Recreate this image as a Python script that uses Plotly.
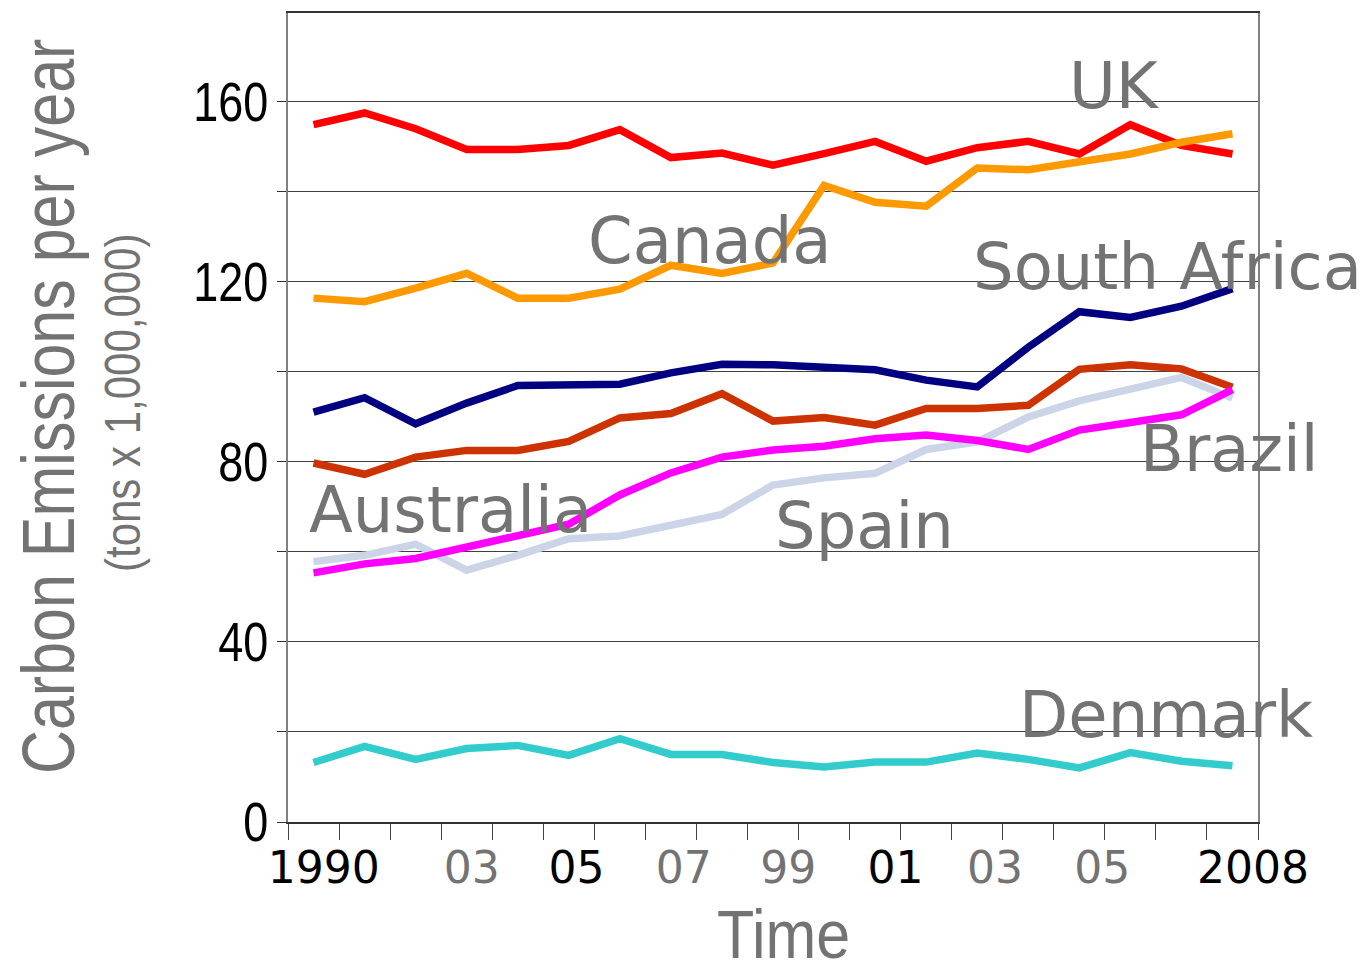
import plotly.graph_objects as go

years = list(range(1990, 2009))

uk = [154.8, 157.4, 153.9, 149.3, 149.3, 150.2, 153.7, 147.5, 148.5, 145.8,
      148.4, 151.1, 146.7, 149.7, 151.1, 148.3, 154.8, 150.2, 148.3]
canada = [116.3, 115.5, 118.5, 121.8, 116.3, 116.3, 118.3, 123.6, 121.8, 124.1,
          141.3, 137.6, 136.7, 145.2, 144.8, 146.6, 148.3, 150.9, 152.8]
south_africa = [91.0, 94.2, 88.4, 93.0, 96.9, 96.9, 97.2, 99.7, 101.6, 101.5,
                101.0, 100.4, 98.1, 96.6, 105.4, 113.3, 112.0, 114.5, 118.4]
australia = [79.7, 77.2, 81.0, 82.5, 82.5, 84.5, 89.7, 90.7, 95.1, 89.0,
             89.8, 88.1, 91.8, 91.8, 92.5, 100.5, 101.5, 100.6, 96.5]
spain = [57.8, 59.2, 61.7, 55.9, 59.2, 62.9, 63.5, 66.1, 68.3, 74.8,
         76.4, 77.4, 82.7, 84.4, 89.9, 93.5, 96.3, 98.7, 94.1]
brazil = [55.3, 57.3, 58.5, 61.0, 63.3, 66.1, 72.6, 77.5, 81.0, 82.6,
          83.4, 85.1, 85.9, 84.7, 82.7, 87.0, 88.7, 90.4, 96.0]
denmark = [13.2, 16.8, 13.9, 16.3, 17.0, 14.8, 18.5, 15.0, 15.0, 13.2,
           12.2, 13.3, 13.3, 15.3, 13.9, 12.0, 15.4, 13.5, 12.5]

series_names = ["Spain", "Australia", "Brazil", "Denmark", "South Africa", "UK", "Canada"]
series_values = [spain, australia, brazil, denmark, south_africa, uk, canada]
series_colors = ["#CCD5E8", "#CC3300", "#FF00FF", "#33CCCC", "#000080", "#FF0000", "#FF9900"]

x_tick_labels = ["1990", "03", "05", "07", "99", "01", "03", "05", "2008"]
x_tick_label_dark = [True, False, True, False, False, True, False, False, True]
x_tick_label_pos = [1990.2, 1993.1, 1995.15, 1997.25, 1999.3, 2001.4, 2003.35, 2005.45, 2008.4]

y_tick_vals = [0, 20, 40, 60, 80, 100, 120, 140, 160, 180]
y_tick_text = ["0", "", "40", "", "80", "", "120", "", "160", ""]

# label name, x (year), y (value)
label_items = [
    ("UK", 2004.76, 163.5),
    ("Canada", 1995.34, 128.9),
    ("South Africa", 2002.88, 123.3),
    ("Brazil", 2006.15, 82.8),
    ("Australia", 1989.87, 69.3),
    ("Spain", 1999.0, 65.8),
    ("Denmark", 2003.78, 23.7),
]

ARIAL = "Liberation Sans, Arial, sans-serif"
VERDANA = "DejaVu Sans, Verdana, sans-serif"
GREY = "#737373"

fig = go.Figure()
for name, vals, col in zip(series_names, series_values, series_colors):
    fig.add_trace(go.Scatter(x=years, y=vals, mode="lines", name=name,
                             line=dict(color=col, width=7.5), showlegend=False))

ticktext = [t if d else f"<span style='color:{GREY}'>{t}</span>"
            for t, d in zip(x_tick_labels, x_tick_label_dark)]

fig.update_layout(
    width=1368, height=973,
    margin=dict(l=280, r=118, t=3, b=159),
    plot_bgcolor="white", paper_bgcolor="white",
    xaxis=dict(
        range=[1989.5, 2008.5],
        tickmode="array", tickvals=x_tick_label_pos, ticktext=ticktext,
        ticks="", showgrid=False, zeroline=False,
        showline=True, linecolor="#333333", linewidth=1.5, mirror=True,
        tickfont=dict(family=VERDANA, size=44, color="black"),
        ticklabelstandoff=6,
        minor=dict(tick0=1989.5, dtick=1, ticks="outside", ticklen=16,
                   tickcolor="#444444", tickwidth=1.2, showgrid=False),
    ),
    yaxis=dict(
        range=[0, 179.6],
        tickmode="array", tickvals=y_tick_vals, ticktext=y_tick_text,
        ticks="outside", ticklen=9, tickcolor="#333333",
        showgrid=True, gridcolor="#404040", gridwidth=1, zeroline=False,
        showline=True, linecolor="#808080", linewidth=1.5, mirror=True,
        tickfont=dict(family=ARIAL, size=45, color="black"),
        ticklabelstandoff=0,
    ),
)

for text, xv, yv in label_items:
    fig.add_annotation(x=xv, y=yv, xref="x", yref="y", text=text, showarrow=False,
                       xanchor="left", yanchor="middle",
                       font=dict(family=VERDANA, size=64, color=GREY))

fig.add_annotation(x=0.511, y=-0.1388, xref="paper", yref="paper", text="Time",
                   showarrow=False, xanchor="center", yanchor="middle",
                   font=dict(family=ARIAL, size=61, color=GREY))
fig.add_annotation(x=-0.2464, y=0.514, xref="paper", yref="paper",
                   text="Carbon Emissions per year", textangle=-90, showarrow=False,
                   xanchor="center", yanchor="middle",
                   font=dict(family=ARIAL, size=61, color=GREY))
fig.add_annotation(x=-0.170, y=0.518, xref="paper", yref="paper",
                   text="(tons x 1,000,000)", textangle=-90, showarrow=False,
                   xanchor="center", yanchor="middle",
                   font=dict(family=ARIAL, size=42, color=GREY))

# narrow-font look: stretch the condensed-style texts perpendicular to their baseline
post_js = r"""
var gd = document.getElementById('{plot_id}');
var sy = {"Carbon Emissions per year": 1.2, "(tons x 1,000,000)": 1.21, "Time": 1.12};
gd.querySelectorAll('text.annotation-text').forEach(function(t){
  var s = sy[t.textContent];
  if (s) {
    t.style.transformBox = 'fill-box';
    t.style.transformOrigin = 'center';
    t.style.transform = 'scale(1,' + s + ')';
  }
});
gd.querySelectorAll('g.ytick text').forEach(function(t){
  var tr = t.getAttribute('transform') || '';
  var m = tr.match(/translate\(\s*([-\d.e]+)[\s,]*([-\d.e]*)\s*\)/);
  var pre = '';
  if (m) {
    var tx = parseFloat(m[1]) || 0, ty = m[2] ? (parseFloat(m[2]) || 0) : 0;
    pre = 'translate(' + tx + 'px,' + ty + 'px) ';
  } else if (tr) { return; }
  t.style.transformBox = 'fill-box';
  t.style.transformOrigin = 'center';
  t.style.transform = pre + 'scale(1,1.24)';
});
"""

fig.write_html("out.html", post_script=post_js)
